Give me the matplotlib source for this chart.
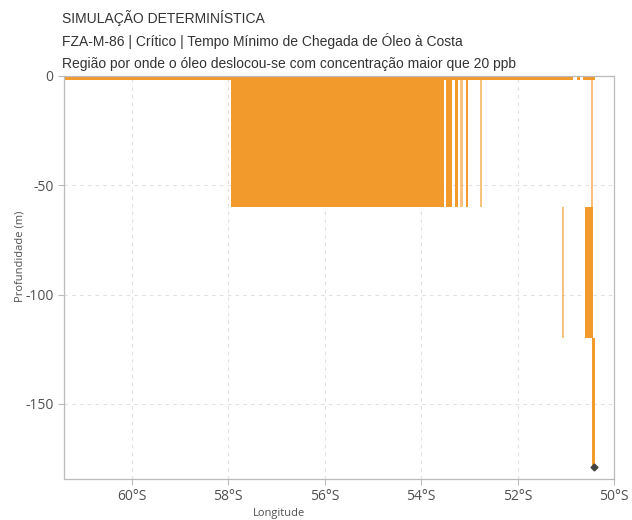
import matplotlib.pyplot as plt
from matplotlib.ticker import FuncFormatter

plt.rcParams['axes.unicode_minus'] = False

# segments where concentration > 20 ppb (longitude extent, depth extent in m)
strong_lon0 = [-61.5, -57.94, -53.48, -53.30, -53.07, -50.77, -50.64, -50.60, -50.45]
strong_lon1 = [-50.85, -53.52, -53.36, -53.23, -53.03, -50.70, -50.39, -50.44, -50.39]
strong_top = [0, 0, 0, 0, 0, 0, 0, -60, -120]
strong_bottom = [-2, -60, -60, -60, -60, -2, -2, -120, -179]

faint_lon0 = [-53.19, -52.78, -51.08, -50.47]
faint_lon1 = [-53.13, -52.74, -51.04, -50.43]
faint_top = [0, 0, -60, 0]
faint_bottom = [-60, -60, -120, -60]

end_lon = [-50.42]
end_depth = [-179]

x_ticks = [-60, -58, -56, -54, -52, -50]
y_ticks = [0, -50, -100, -150]

orange = '#F39A2C'
grid_c = '#e0e0e0'
spine_c = '#bbbbbb'
text_c = '#505050'

fig = plt.figure(figsize=(6.32, 5.2), dpi=100)
ax = fig.add_axes([0.101, 0.079, 0.8705, 0.775])


def draw(lon0, lon1, top, bottom, alpha):
    for a, b, t, d in zip(lon0, lon1, top, bottom):
        ax.bar(min(a, b), t - d, width=abs(b - a), bottom=d, align='edge',
               color=orange, alpha=alpha, linewidth=0, zorder=2)


draw(strong_lon0, strong_lon1, strong_top, strong_bottom, 1.0)
draw(faint_lon0, faint_lon1, faint_top, faint_bottom, 0.6)
ax.plot(end_lon, end_depth, marker='D', ms=3.5, color='#444444', ls='none', zorder=3)

ax.set_xlim(-61.41, -50)
ax.set_ylim(-184.3, 0)
ax.set_xticks(x_ticks)
ax.set_yticks(y_ticks)
ax.xaxis.set_major_formatter(FuncFormatter(lambda v, p: f"{abs(v):.0f}°S"))
ax.grid(True, ls=(0, (3, 4)), color=grid_c, lw=0.8, zorder=0)
for s in ax.spines.values():
    s.set_color(spine_c)
    s.set_linewidth(0.9)
ax.tick_params(colors=spine_c, labelcolor=text_c, length=4, labelsize=10)
for lbl in ax.get_xticklabels() + ax.get_yticklabels():
    lbl.set_family('Open Sans')
ax.set_xlabel('Longitude', family='Open Sans', fontsize=8, color=text_c)
ax.set_ylabel('Profundidade (m)', family='Open Sans', fontsize=8, color=text_c)
ax.xaxis.set_label_coords(0.392, -0.071)
ax.yaxis.set_label_coords(-0.07, 0.553)

titles = ['SIMULAÇÃO DETERMINÍSTICA',
          'FZA-M-86 | Crítico | Tempo Mínimo de Chegada de Óleo à Costa',
          'Região por onde o óleo deslocou-se com concentração maior que 20 ppb']
for i, t in enumerate(titles):
    fig.text(62 / 632, 1 - (18 + 23 * i) / 520, t, family='Liberation Sans',
             fontsize=10, color='#333333', va='center', ha='left')

plt.savefig('out.png', dpi=100)
